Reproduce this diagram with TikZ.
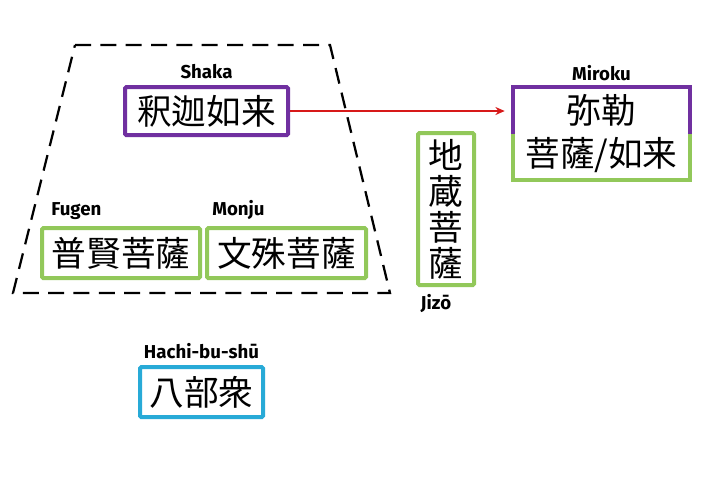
\documentclass[tikz,border=0pt]{standalone}
\usepackage{fontspec}
\newfontfamily\cjk{Noto Sans CJK JP}
\newfontfamily\lab{Fira Sans}
\usetikzlibrary{positioning,arrows.meta}
\definecolor{budpurple}{RGB}{112,48,160}
\definecolor{budgreen}{RGB}{146,200,90}
\definecolor{budcyan}{RGB}{40,170,215}
\definecolor{budred}{RGB}{215,25,25}
\tikzset{
	namebox/.style={draw,line width=3pt,rounded corners=1pt,inner sep=0pt,font=\cjk\fontsize{26}{30}\selectfont},
	namelabel/.style={font=\lab\bfseries\fontsize{14}{16}\selectfont},
}
\begin{document}
\begin{tikzpicture}[x=0.75pt,y=-0.75pt]
		\useasboundingbox (0,0) rectangle (720,480);
		% group of three
		\draw [line width=1.7pt,dash pattern=on 12pt off 7pt] (75,45) -- (330,45) -- (390,293) -- (13,293) -- cycle;
		
		\node [namebox,draw=budpurple,minimum width=163*0.75pt,minimum height=48*0.75pt] (shaka) at (206.5,111) {釈迦如来};
		\node [namelabel,above=1pt of shaka] (shakalab) {Shaka};
		
		\node [namebox,draw=budgreen,minimum width=158*0.75pt,minimum height=50*0.75pt] (fugen) at (121,253) {普賢菩薩};
		\node [namelabel,above=1pt of fugen.north west,anchor=south west,xshift=5pt] (fugenlab) {Fugen};
		\node [namebox,draw=budgreen,minimum width=159*0.75pt,minimum height=50*0.75pt] (monju) at (286.5,253) {文殊菩薩};
		\node [namelabel,above=1pt of monju.north west,anchor=south west,xshift=2pt] (monjulab) {Monju};
		
		\node [namebox,draw=budgreen,minimum width=56*0.75pt,minimum height=152*0.75pt,align=center,font=\cjk\fontsize{26}{27}\selectfont] (jizo) at (446,209) {地\\蔵\\菩\\薩};
		\node [namelabel,below=2pt of jizo.south west,anchor=north west] (jizolab) {Jiz\=o};
		
		\node [namebox,draw=budcyan,minimum width=123*0.75pt,minimum height=50*0.75pt] (hachi) at (201.5,392) {八部衆};
		\node [namelabel,above=1pt of hachi] (hachilab) {Hachi-bu-sh\=u};
		
		% future buddha, two-coloured frame
		\node [inner sep=0pt,minimum width=177*0.75pt,minimum height=93*0.75pt,align=center,font=\cjk\fontsize{26}{32}\selectfont] (miroku) at (601.5,133.5) {弥勒\\菩薩/如来};
		\draw [budpurple,line width=3pt] (miroku.west) -- (miroku.north west) -- (miroku.north east) -- (miroku.east);
		\draw [budgreen,line width=3pt] (miroku.west) -- (miroku.south west) -- (miroku.south east) -- (miroku.east);
		\node [namelabel,above=1pt of miroku] (mirokulab) {Miroku};
		
		\draw [-{Stealth[length=7pt,width=6pt]},budred,line width=2pt] (shaka.east) -- ([xshift=-6pt]miroku.north west |- shaka.east);
	\end{tikzpicture}
\end{document}
